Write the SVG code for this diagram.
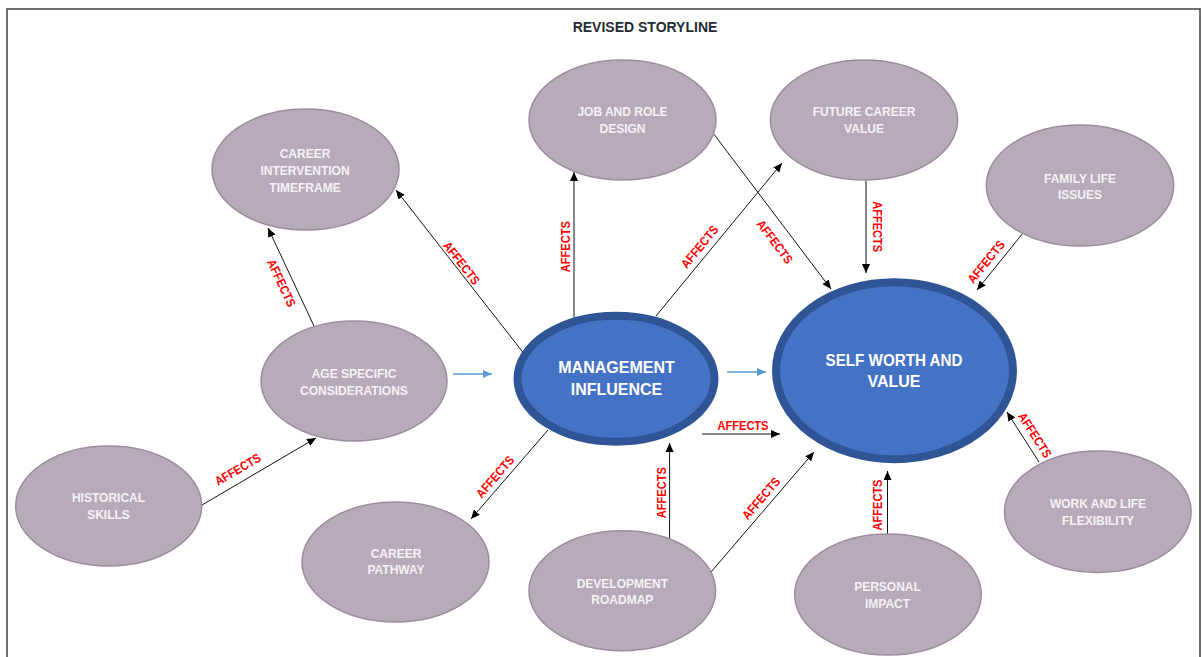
<svg xmlns="http://www.w3.org/2000/svg" width="1202" height="657" viewBox="0 0 1202 657">
  <defs>
    <marker id="head" markerUnits="userSpaceOnUse" markerWidth="9" markerHeight="8" refX="9" refY="4" orient="auto">
      <path d="M0,0 L9,4 L0,8 z" fill="#000"/>
    </marker>
    <marker id="head-blue" markerUnits="userSpaceOnUse" markerWidth="9" markerHeight="8" refX="9" refY="4" orient="auto">
      <path d="M0,0 L9,4 L0,8 z" fill="#5B9BD5"/>
    </marker>
    <style>
      .frame { fill: #fff; stroke: #3f3f46; stroke-width: 1.5; }
      .title { font-family: "Liberation Sans", Arial, sans-serif; font-weight: 700; font-size: 14px; fill: #262b33; text-anchor: middle; }
      .soft { fill: #b8abb9; stroke: #9c8c9e; stroke-width: 1.5; }
      .core { fill: #4472c4; stroke: #2f5597; stroke-width: 8; }
      .lbl { font-family: "Liberation Sans", Arial, sans-serif; font-weight: 700; font-size: 12px; fill: #f4f2f5; text-anchor: middle; }
      .big { font-family: "Liberation Sans", Arial, sans-serif; font-weight: 700; font-size: 16px; fill: #ffffff; text-anchor: middle; }
      .link { stroke: #111; stroke-width: 1; fill: none; marker-end: url(#head); }
      .flow { stroke: #5b9bd5; stroke-width: 1.3; fill: none; marker-end: url(#head-blue); }
      .tag { font-family: "Liberation Sans", Arial, sans-serif; font-weight: 700; font-size: 12.5px; fill: #ff0000; text-anchor: middle; }
    </style>
  </defs>

  <rect class="frame" x="7" y="9" width="1193" height="660"/>
  <text class="title" x="645" y="31.5">REVISED STORYLINE</text>

  <!-- connectors -->
  <g id="connectors">
    <line class="link" x1="314" y1="326" x2="268" y2="228"/>
    <line class="link" x1="522.7" y1="352" x2="396" y2="190"/>
    <line class="link" x1="574" y1="317" x2="574" y2="172"/>
    <line class="link" x1="656" y1="316" x2="782" y2="163"/>
    <line class="link" x1="713" y1="133" x2="831" y2="289"/>
    <line class="link" x1="866" y1="181" x2="866" y2="273"/>
    <line class="link" x1="1023" y1="233" x2="977" y2="290"/>
    <line class="flow" x1="453" y1="374" x2="492" y2="374"/>
    <line class="flow" x1="727" y1="372" x2="766" y2="372"/>
    <line class="link" x1="702" y1="434" x2="780" y2="434"/>
    <line class="link" x1="548" y1="430" x2="471" y2="519"/>
    <line class="link" x1="202" y1="505" x2="316" y2="438"/>
    <line class="link" x1="669.6" y1="541" x2="669.6" y2="443"/>
    <line class="link" x1="711" y1="572" x2="814" y2="452"/>
    <line class="link" x1="887.5" y1="534" x2="887.5" y2="471"/>
    <line class="link" x1="1039" y1="462" x2="1007" y2="412"/>

    <text class="tag" transform="translate(281.7,283) rotate(65)" y="4.5" textLength="51" lengthAdjust="spacingAndGlyphs">AFFECTS</text>
    <text class="tag" transform="translate(461.7,263) rotate(52)" y="4.5" textLength="51" lengthAdjust="spacingAndGlyphs">AFFECTS</text>
    <text class="tag" transform="translate(565,246.7) rotate(-90)" y="4.5" textLength="51" lengthAdjust="spacingAndGlyphs">AFFECTS</text>
    <text class="tag" transform="translate(699.5,246.7) rotate(-50.5)" y="4.5" textLength="51" lengthAdjust="spacingAndGlyphs">AFFECTS</text>
    <text class="tag" transform="translate(775,241.7) rotate(53)" y="4.5" textLength="51" lengthAdjust="spacingAndGlyphs">AFFECTS</text>
    <text class="tag" transform="translate(877,226.7) rotate(90)" y="4.5" textLength="51" lengthAdjust="spacingAndGlyphs">AFFECTS</text>
    <text class="tag" transform="translate(986,261.7) rotate(-51)" y="4.5" textLength="51" lengthAdjust="spacingAndGlyphs">AFFECTS</text>
    <text class="tag" transform="translate(743,425)" y="4.5" textLength="51" lengthAdjust="spacingAndGlyphs">AFFECTS</text>
    <text class="tag" transform="translate(495,476.7) rotate(-49)" y="4.5" textLength="51" lengthAdjust="spacingAndGlyphs">AFFECTS</text>
    <text class="tag" transform="translate(237.7,469.3) rotate(-30.4)" y="4.5" textLength="51" lengthAdjust="spacingAndGlyphs">AFFECTS</text>
    <text class="tag" transform="translate(661.6,492.7) rotate(-90)" y="4.5" textLength="51" lengthAdjust="spacingAndGlyphs">AFFECTS</text>
    <text class="tag" transform="translate(761,498.3) rotate(-49.4)" y="4.5" textLength="51" lengthAdjust="spacingAndGlyphs">AFFECTS</text>
    <text class="tag" transform="translate(877,505) rotate(-90)" y="4.5" textLength="51" lengthAdjust="spacingAndGlyphs">AFFECTS</text>
    <text class="tag" transform="translate(1035,435) rotate(57.4)" y="4.5" textLength="51" lengthAdjust="spacingAndGlyphs">AFFECTS</text>
  </g>

  <!-- nodes -->
  <g id="career-intervention">
    <ellipse class="soft" cx="305.5" cy="169.5" rx="93.5" ry="60.5"/>
    <text class="lbl" x="305" y="157.5">CAREER</text>
    <text class="lbl" x="305" y="174.5">INTERVENTION</text>
    <text class="lbl" x="305" y="192">TIMEFRAME</text>
  </g>
  <g id="age-specific">
    <ellipse class="soft" cx="354" cy="381" rx="93" ry="60"/>
    <text class="lbl" x="354" y="377.5">AGE SPECIFIC</text>
    <text class="lbl" x="354" y="395">CONSIDERATIONS</text>
  </g>
  <g id="job-role">
    <ellipse class="soft" cx="622.5" cy="120" rx="93.5" ry="60"/>
    <text class="lbl" x="622.5" y="116.3">JOB AND ROLE</text>
    <text class="lbl" x="622.5" y="133.3">DESIGN</text>
  </g>
  <g id="future-career">
    <ellipse class="soft" cx="864" cy="120" rx="93.6" ry="60"/>
    <text class="lbl" x="864" y="116">FUTURE CAREER</text>
    <text class="lbl" x="864" y="133.3">VALUE</text>
  </g>
  <g id="family-life">
    <ellipse class="soft" cx="1080" cy="185.5" rx="93.7" ry="60.5"/>
    <text class="lbl" x="1080" y="182.6">FAMILY LIFE</text>
    <text class="lbl" x="1080" y="199.3">ISSUES</text>
  </g>
  <g id="management">
    <ellipse class="core" cx="616" cy="378.7" rx="98.5" ry="63"/>
    <text class="big" x="616.5" y="373">MANAGEMENT</text>
    <text class="big" x="616.5" y="395">INFLUENCE</text>
  </g>
  <g id="self-worth">
    <ellipse class="core" cx="894.5" cy="370.7" rx="118.5" ry="88.5"/>
    <text class="big" x="894" y="365.7" textLength="137" lengthAdjust="spacingAndGlyphs">SELF WORTH AND</text>
    <text class="big" x="894" y="387.4">VALUE</text>
  </g>
  <g id="historical-skills">
    <ellipse class="soft" cx="108.7" cy="506" rx="93" ry="60"/>
    <text class="lbl" x="108.5" y="502">HISTORICAL</text>
    <text class="lbl" x="108.5" y="518.6">SKILLS</text>
  </g>
  <g id="career-pathway">
    <ellipse class="soft" cx="395.5" cy="562" rx="93.5" ry="60"/>
    <text class="lbl" x="396" y="557.6">CAREER</text>
    <text class="lbl" x="396" y="574.3">PATHWAY</text>
  </g>
  <g id="development-roadmap">
    <ellipse class="soft" cx="622.3" cy="590.7" rx="93.3" ry="60"/>
    <text class="lbl" x="622.3" y="587.6">DEVELOPMENT</text>
    <text class="lbl" x="622.3" y="604.3">ROADMAP</text>
  </g>
  <g id="personal-impact">
    <ellipse class="soft" cx="888" cy="594.5" rx="93.3" ry="60.5"/>
    <text class="lbl" x="887.5" y="591">PERSONAL</text>
    <text class="lbl" x="887.5" y="607.6">IMPACT</text>
  </g>
  <g id="work-life">
    <ellipse class="soft" cx="1097.8" cy="511.7" rx="93.3" ry="60.7"/>
    <text class="lbl" x="1098" y="507.6">WORK AND LIFE</text>
    <text class="lbl" x="1098" y="525">FLEXIBILITY</text>
  </g>
</svg>
